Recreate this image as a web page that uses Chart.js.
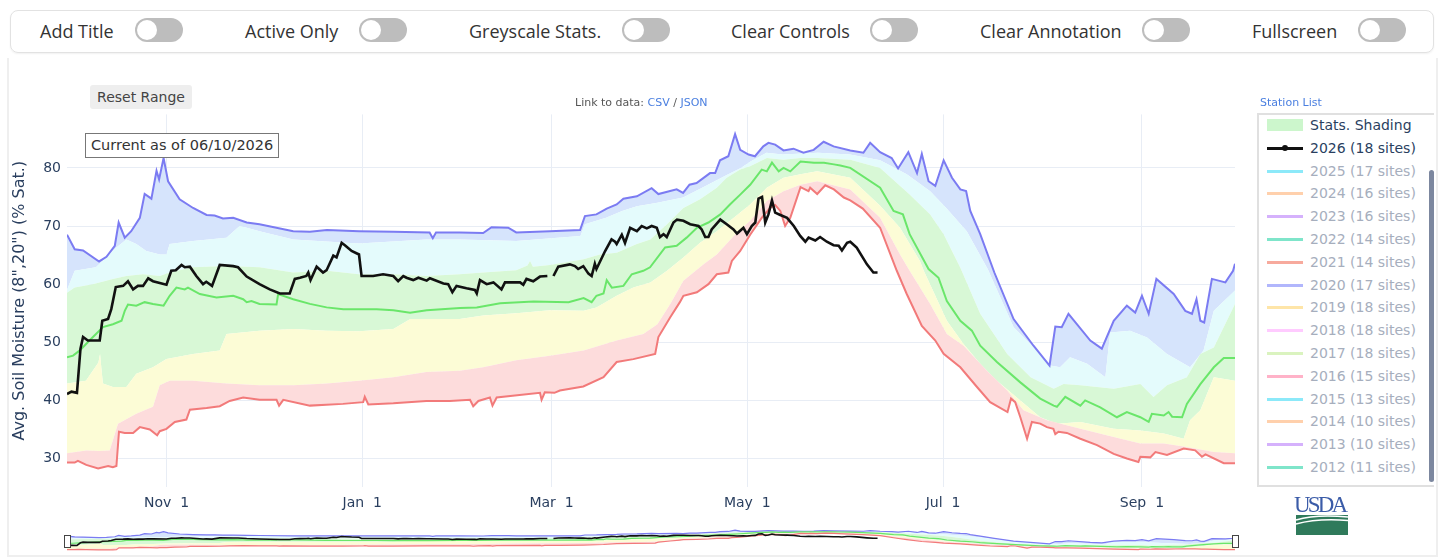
<!DOCTYPE html>
<html>
<head>
<meta charset="utf-8">
<title>Avg. Soil Moisture</title>
<script src="https://cdn.jsdelivr.net/npm/chart.js@4.4.1/dist/chart.umd.min.js"></script>
<style>
  body { margin:0; width:1440px; height:560px; overflow:hidden; position:relative; background:#fff; font-family:"DejaVu Sans", sans-serif; }
  .bar { position:absolute; left:10px; top:10px; width:1422px; height:41px; border:1px solid #e2e2e2; border-radius:8px; box-shadow:0 1px 2px rgba(0,0,0,0.06); }
  .ctl { position:absolute; top:19px; font:18px "Open Sans", sans-serif; line-height:24px; color:#333; }
  .tg { position:absolute; top:18px; width:48px; height:24px; border-radius:12px; background:#bdbdbd; }
  .tg::after { content:""; position:absolute; left:2px; top:2px; width:20px; height:20px; border-radius:50%; background:#fff; }
  .panel { position:absolute; left:7px; top:58px; width:1427px; height:497px; border-left:2px solid #efefef; border-right:2px solid #efefef; border-bottom:2px solid #efefef; }
  canvas { position:absolute; }
  .btn { position:absolute; left:90px; top:85px; width:102px; height:24px; background:#eeeeee; border-radius:3px; font-size:14px; line-height:24px; text-align:center; color:#444; }
  .note { position:absolute; left:85px; top:133px; padding:0 5px; height:23px; border:1px solid #777; background:#fff; font-size:14.5px; line-height:23px; color:#333; }
  .link { position:absolute; top:96px; font-size:11px; color:#555; }
  .link span { color:#4a7fe0; }
  .legend { position:absolute; left:1257px; top:113px; width:175px; height:370px; border:2px solid #e0e0e0; border-right:none; }
  .row { position:absolute; left:8px; height:20px; font-size:14px; line-height:20px; white-space:nowrap; }
  .row .s { position:absolute; left:0; top:9px; width:36px; height:3px; }
  .row .m { position:absolute; left:15px; top:7px; width:6px; height:6px; border-radius:50%; background:#111; }
  .row .t { position:absolute; left:43px; top:0; }
  .scroll { position:absolute; left:1429px; top:170px; width:5px; height:312px; border-radius:3px; background:#7c879f; }
  .handle { position:absolute; top:535px; width:5px; height:11px; border:1px solid #444; background:#fff; }
</style>
</head>
<body>

<div class="bar"></div>
<div class="ctl" style="left:40px">Add Title</div><div class="tg" style="left:135px"></div>
<div class="ctl" style="left:245px">Active Only</div><div class="tg" style="left:359px"></div>
<div class="ctl" style="left:469px">Greyscale Stats.</div><div class="tg" style="left:622px"></div>
<div class="ctl" style="left:731px">Clear Controls</div><div class="tg" style="left:870px"></div>
<div class="ctl" style="left:980px">Clear Annotation</div><div class="tg" style="left:1142px"></div>
<div class="ctl" style="left:1252px">Fullscreen</div><div class="tg" style="left:1358px"></div>

<div class="panel"></div>

<canvas id="mainChart" width="1240" height="420" style="left:0;top:100px"></canvas>
<canvas id="rangeChart" width="1168" height="22" style="left:67px;top:529px"></canvas>
<div class="handle" style="left:64px"></div>
<div class="handle" style="left:1232px"></div>

<div class="btn">Reset Range</div>
<div class="note">Current as of 06/10/2026</div>
<div class="link" style="left:575px">Link to data: <span>CSV</span> / <span>JSON</span></div>
<div class="link" style="left:1260px"><span>Station List</span></div>

<div class="legend" id="legend"></div>
<div class="scroll"></div>

<svg style="position:absolute;left:1292px;top:493px" width="60" height="44" viewBox="0 0 60 44">
  <text x="29" y="19" text-anchor="middle" font-family="Liberation Serif" font-size="23" fill="#3b5ca8" textLength="54">USDA</text>
  <path d="M4 22 H56 V42 H4 Z" fill="#2f7a5b"/>
  <path d="M4 27 Q24 21 56 24" stroke="#fff" stroke-width="1.6" fill="none"/>
  <path d="M4 31 Q26 25 56 27.5" stroke="#fff" stroke-width="1.4" fill="none"/>
</svg>

<script>
// ---- axis ticks (day of water year, Oct 1 = 0) ----
const monthTickDays   = [31, 92, 151, 212, 273, 335];
const monthTickLabels = ['Nov  1', 'Jan  1', 'Mar  1', 'May  1', 'Jul  1', 'Sep  1'];
const yTicks          = [30, 40, 50, 60, 70, 80];

// ---- 2026 (18 sites) ----
const days2026 = [0,1.4,3.1,4.2,5,6.5,10.2,11,12.8,13.8,15.2,17.5,19,20.6,22.1,23.7,25.3,26.8,31,32.5,33.9,35.7,36.7,38.3,40.3,42.4,43.4,45.2,47.6,51.8,53.3,56,60,63.2,66.3,69.4,71,72.6,74.6,75.2,75.9,77.8,79.8,80.9,83,84,85.6,86.6,88.7,91,91.8,95.4,98.5,101.7,103.2,104.8,105.8,107.9,109.5,112.1,113.1,117.3,118.8,120.1,121.4,124.5,127.1,127.7,128.7,130.8,132.9,135.4,136.5,141.2,142.2,143.2,145.3,147.4,149.7,150.6,151.6,153.1,156.7,158.3,159.3,160.9,162.5,163.5,164.5,165,167.7,169.7,170.8,171.3,172.9,173.9,175.5,177.6,179.1,180.7,182.2,183.8,184.8,185.9,186.9,189,190.1,192.1,194.2,196.8,197.8,198.9,199.9,200.9,203.6,205.6,207.7,208.8,210.8,211.9,213.4,214.5,215.5,216.6,217.6,218.6,219.7,220.7,222.3,224.4,226.5,228.5,230.1,231.1,233.2,234.7,236.8,238.9,240.5,241.5,243.1,244.1,246.1,249.3,251.3,252.6];
const vals2026 = [41.1,41.5,41.3,48.9,50.9,50.3,50.3,53.7,54,55.7,59.5,59.7,60.5,59.1,59.7,59.7,61,60.5,59.9,62.3,62.4,63.3,62.9,63,61.4,60,60.4,59.7,63.3,63.1,62.9,61.3,60,59.1,58.4,58.4,60.9,61.1,61.4,62,60.7,63,62,62.4,64.9,64.6,67.1,66.7,65.7,65.1,61.4,61.4,61.7,61.4,60.5,61.4,61.1,60.7,61.1,60.6,61,60.1,60,58.6,59.7,59.3,59,58.4,60.7,60,60.3,59.1,60.3,60.3,59.9,60.9,60.5,61.3,61.4,null,61.4,63,63.4,63.1,62.6,63.1,61.8,61.4,63.5,62.6,65.7,67.7,67.3,66.9,68.5,67.1,69.7,69.1,70,69.6,70,69.7,68.1,68.6,68.1,70.6,71.1,70.9,70.3,70,69.4,68.1,68.1,69.4,71.1,70.3,69.4,68.7,69.7,68.6,70,70.6,74.7,75,70.6,72,74.4,72.3,71.9,71.4,70,68.3,67.3,68,67.5,68.1,67.3,66.7,66.6,65.8,67.1,67.3,66.3,63.4,62,62];

// ---- statistics: max ----
const maxDays = [0,2.4,5,10,12.3,14.9,16.1,18,20,22.7,24.2,26.3,27.9,28.7,30.1,31.5,35.1,39.3,43.5,46,48.6,51.8,56,60,70.5,75.7,81,91,101.7,113,114,115,122.4,129.7,132.3,137.5,140,150.5,159.9,161.4,165,168.2,171.3,173.4,177.6,182.2,184.3,190,192,194,196.2,200.4,202,203.5,206.1,208.2,209.8,212.4,214.4,217,218.6,220.7,223.3,226.4,229.5,232.7,235.8,238.9,244.1,248.2,250.3,253.4,257,259,262.2,264.9,266.4,268.5,270.6,273.2,275.8,278.4,280.2,281.5,284.6,289,295,301.2,306.2,308,310,312.1,318.9,322.5,326.2,330.3,332.9,335,337.1,339.5,344.9,348.5,350.6,352,353.2,354.4,356.8,361,363.4,364];
const maxVals = [68.5,66,65.8,63.9,64.7,66.6,70.6,68,69.1,71.4,75.5,74.7,79.5,78,81.7,77.7,74.6,73.1,71.9,71.8,71.3,71.4,70.6,70.3,69.1,69,69.3,69.1,69,68.9,67.9,68.9,68.9,68.8,69.8,69.7,68.9,69.1,69.3,71.7,72,73,73.7,74.7,75.1,76.5,75.5,76.3,75.7,77.1,77.4,79.1,79.1,81.3,82,85.8,83.1,82.3,82,83.7,84.3,84,83,83.3,82.6,83.1,84.5,83.7,83,82.6,84.3,82.7,81.7,79.9,82.7,79.1,82.4,77.7,76.9,81.3,78.3,76.3,76,72.6,68.6,62,54,49.4,46,52.7,52.6,54.9,50.3,48.9,53.7,56.3,55.1,58,54.9,60.9,58.3,55.4,54.9,57.4,53.7,53.4,60.9,60.3,62.3,63.5];

// ---- statistics: 90th percentile ----
const p90Days = [0,2.4,9,15.4,18.5,21.6,24.7,28.9,31,32,39.3,49.7,53.8,56,60,70.5,91,112,122.4,140,160,161.4,168,173,177.6,184,192,199,205,210,213,218,223,234,244,253.4,261.7,269,274,280.4,287,295,302.3,306.4,309.5,312.6,317.9,323.6,325.1,331.3,336.6,342.8,350,354.2,357.4,364];
const p90Vals = [59,62.3,62.9,66.3,67.7,66.9,65.7,65.1,65.1,66.9,67.4,68,70,69.7,69.1,67.7,67,67.7,67.7,67.4,68.3,70.3,71.4,72.6,73.4,74,74.9,76.9,78.6,80,81.1,82.6,82.3,82.6,82.3,81.3,78.9,76,73.1,69.1,62.5,52.6,48.6,46,45.7,47.4,46.3,44,51.7,52,50.8,48,45.7,48.6,55.4,58.9];

// ---- statistics: 70th percentile ----
const p70Days = [0,2.4,8,14.3,18.5,23.7,28.9,32,39.3,49.7,60,70.5,81,91,101.7,112,122.4,129.7,140,143.5,144.3,145.2,150.5,161,166.1,171.3,177.6,181.8,187,192.1,197.3,202.5,205.6,209.8,212.9,218.1,223.3,228.6,233.8,244.1,253.4,262.6,269,273.2,278.4,284.6,293,300.3,307.5,310.6,315.8,326.2,334.5,338.6,342.8,349,353.2,357.4,364];
const p70Vals = [58.5,59.4,60,60.9,61.4,61.7,61.4,62,62.9,63.1,62.9,62,62.3,61.7,61.7,61.4,61.7,62,62.4,63.2,64,63,63.3,64.3,65.1,65.4,66.9,67.7,70.3,73.1,74.6,76.6,78.3,79.7,80.3,81.7,81.4,81.7,81.7,81.4,80,75.4,72,68.6,62.8,54.9,48,44,42,42.8,42.6,42,42.8,40.6,42.6,44,48,49.1,56.6];

// ---- statistics: median ----
const medDays = [0,1.9,4,7,11.2,14.3,17,18,19,21.6,24.2,26.8,30.1,32,34.1,36.7,37.7,41.4,46.6,51.8,54.9,56,57.5,60,65.3,65.8,70.5,75.7,80.9,86.1,96.5,101.7,106.9,112.1,122.5,127.7,135,145.4,156.3,161,163.5,165,167.2,168.2,169.8,173.4,176,179.6,181.7,186.4,190,193.1,196.3,199.9,203.6,206.6,209.8,212.9,216.5,218.1,219.7,221.8,223.3,225.4,228.6,232.8,235.9,239,241,244.1,253.4,257.6,260.5,262.6,268.5,271.6,274.2,278.4,282,284.6,289.8,297.1,303.3,307.5,308.5,311.1,315.8,317.3,322,327.2,330.3,334.5,337.1,338.1,341.8,343.3,344.4,347.5,349,353.2,357.4,360.5,364];
const medVals = [47.4,47.7,48.6,50.3,52.6,53.1,53.7,55.4,56.5,56.3,56.9,56.6,56.3,58,59.4,59.1,59.4,58.3,57.7,58,57.4,56.9,57.1,56.6,56.5,58.3,57.4,56.6,56,55.7,55.7,55.5,55.1,55.5,55.9,56,56.7,57,56.9,57.6,56.9,58,58.4,60.7,59.4,59.7,61.7,62.3,62.9,66.3,66.6,68,69.7,70.6,72,73.7,75.4,77.1,79.7,79.4,80.9,79.4,80,79.4,81.1,80.9,80.9,80.6,80.4,80,76.6,72.6,72,68.6,62.6,61.1,57.1,53.7,52,49.4,46.6,43.1,40.3,39.1,38.9,40.6,39.1,40,38.8,37.1,38,37.1,36.3,37.7,37.4,38,37.2,37.1,39.4,42.8,45.7,47.3,47.3];

// ---- statistics: 30th percentile ----
const p30Days = [0,5.9,9.8,10.3,10.8,11.2,14.3,18.5,21.6,26.8,31,39.3,47.6,49.7,60,70.5,80.9,91,101.7,107,122.4,129.7,140,150.5,161,165,171.3,176.5,181.8,187,192.1,197.3,202.5,207.8,212.9,218.1,223.3,228.6,233.8,244.1,253.4,259.6,265.8,267,274.2,279.4,284.6,289.8,297.1,303.3,308.5,315.8,326.2,334.5,341.8,348,350,353.2,357.4,364];
const p30Vals = [42.9,43.4,46.5,48,45,42.9,42.3,42.3,44.6,45.7,47.1,48,48.6,51.4,52,52.3,52,51.9,52.3,54,54,54.6,55,55.5,55.4,56,58,59.4,60.3,62.3,64.6,67.1,69.1,71.4,73.7,76.6,78.3,78.9,79.4,78.3,73.5,69.7,64,62.3,53.7,49.7,46.3,43.4,40,37.1,36,36.3,35.1,34.8,34.3,33.4,36.6,38.3,44,43.4];

// ---- statistics: 10th percentile ----
const p10Days = [0,6,10,13.3,15.9,21.6,26.8,28.9,32,39.3,49.7,60,70.5,81,91,101.7,112,122.4,129.7,140,150.5,161,171.3,179.6,184,188,192.1,198.4,202.5,207.8,212.9,218.1,223.3,228.6,233.8,244.1,253.4,259.6,262.6,269,274.2,279.4,286.7,293,298.1,305.4,315.8,326.2,334.5,341.8,349,357.4,364];
const p10Vals = [30.9,31.4,31.3,31.4,36,37.7,38.9,42.6,43.4,43.4,42.9,42.6,42.6,42.9,43.4,44,44.9,45.1,45.7,46.9,47.7,48.6,50.3,51.4,53.1,56.6,60.6,63.4,65.1,68.3,70.9,74.3,76,77.1,77.7,76.3,71.4,65.1,62.3,56.6,51.4,49.4,45.1,41.7,38.3,36.6,35.1,33.7,32.6,32.6,32,31.1,30.9];

// ---- statistics: min ----
const minDays = [0,2.4,3.4,6,9.7,12.8,14.3,15.4,16.2,18,20.6,22.7,25.8,28.1,28.9,31,33.6,37.2,38.3,43.5,47.6,50.7,54.9,60,65.3,66.1,67.4,75.7,86,92.3,92.8,93.9,101.7,112,119.3,125.6,126.6,128.2,131.8,132.6,133.9,147.4,147.9,148.9,151.9,153.6,160.9,167.2,171.3,176.5,183.3,184.3,188,191,192.1,196.3,199.9,202.5,206.1,207.2,209.8,212.9,216.5,219.1,220.7,222.3,223.8,225.4,228.6,231.1,231.6,233.8,236.3,239,242.1,244.1,248,253.4,258.6,261.7,266.4,270.6,273.2,278.4,283.6,287.7,293.1,294.2,295.5,297.1,299.2,300.7,303.3,305.4,307.4,308,309,311.6,315.8,321,326.2,330.3,333.9,334.5,337.6,339.2,342.8,348,351.6,353.7,354.8,360.5,364];
const minVals = [29.3,29.3,29.6,28.9,28.3,28.7,28.5,28.7,34.6,34.4,34.4,35.4,35,34,34.7,35.1,36.3,36.7,38.4,38.7,39,39.9,40.5,40.1,40.1,39.1,40.1,39.1,39.4,39.7,40.6,39.3,39.5,39.9,39.9,40.1,39,39.9,40.5,39.1,40.5,41.3,40.1,41.4,41.3,41.7,42.4,44,46.6,47.1,48,50.9,54.3,56.9,58,58.6,60,61.7,62,64,65.7,68.5,71.4,73.1,73.6,72.6,70,71.4,76.7,76,76.6,75.5,77,76.3,74.9,74.4,73,69.7,62.3,58.3,52.8,50.3,48,45.7,42.3,39.7,38,40.3,39.7,37.1,33.4,36.3,36,35.4,35.1,34.2,34.6,34.4,33.4,32.3,30.8,30,29.4,30.3,30.2,31.1,30.6,31.7,31.4,30.3,30.7,29.2,29.2];

// ---- legend ----
const legendLabels = ['Stats. Shading','2026 (18 sites)','2025 (17 sites)','2024 (16 sites)','2023 (16 sites)','2022 (14 sites)','2021 (14 sites)','2020 (17 sites)','2019 (18 sites)','2018 (18 sites)','2017 (18 sites)','2016 (15 sites)','2015 (13 sites)','2014 (10 sites)','2013 (10 sites)','2012 (11 sites)'];
const legendColors = ['#ccf6cc','#111111','#19d3f3','#ffa15a','#ab63fa','#00cc96','#ef553b','#636efa','#fecb52','#ff97ff','#b6e880','#ff6692','#19d3f3','#ffa15a','#ab63fa','#00cc96'];

const AXIS_COLOR = '#2a3f5f';
const GRID_COLOR = '#e8edf5';
Chart.defaults.font.family = '"DejaVu Sans", sans-serif';

function pts(d, v) {
  return d.map((x, i) => ({ x: x, y: v[i] }));
}

// dataset index matters for the fill targets below
function buildSets(lw) {
  const band = (data, target, color, order) => ({
    data: data, borderWidth: 0, borderColor: 'transparent', backgroundColor: color, fill: target, order: order
  });
  return [
    { data: pts(days2026, vals2026), borderColor: '#111', borderWidth: lw * 1.3, fill: false, order: 0 },
    { data: pts(minDays, minVals), borderColor: '#f27a7a', borderWidth: lw, fill: false, order: 1 },
    band(pts(p10Days, p10Vals), 1, '#fddcdc', 2),
    band(pts(p30Days, p30Vals), 2, '#fcfcd6', 3),
    { data: pts(medDays, medVals), borderColor: '#6ae66a', borderWidth: lw, backgroundColor: '#d8f8d6', fill: 3, order: 4 },
    band(pts(p70Days, p70Vals), 4, '#d8f8d6', 5),
    band(pts(p90Days, p90Vals), 5, '#e4fbfc', 6),
    { data: pts(maxDays, maxVals), borderColor: '#7b7bf2', borderWidth: lw, backgroundColor: '#d6e4fc', fill: 6, order: 7 },
  ];
}

const commonOpts = {
  responsive: false,
  animation: false,
  devicePixelRatio: 1,
  elements: { point: { radius: 0, hoverRadius: 0 }, line: { tension: 0 } },
  plugins: {
    legend: { display: false },
    tooltip: { enabled: false },
    filler: { drawTime: 'beforeDatasetsDraw' }
  },
  events: []
};

new Chart(document.getElementById('mainChart'), {
  type: 'line',
  data: { datasets: buildSets(2) },
  options: {
    ...commonOpts,
    layout: { padding: { top: 13, right: 5, left: 0, bottom: 0 } },
    scales: {
      x: {
        type: 'linear', min: 0, max: 364,
        afterBuildTicks: s => { s.ticks = monthTickDays.map(v => ({ value: v })); },
        afterFit: s => { s.height = 33; },
        ticks: {
          callback: (v, i) => monthTickLabels[i],
          color: AXIS_COLOR, font: { size: 14 }, padding: 8, maxRotation: 0, autoSkip: false
        },
        grid: { color: GRID_COLOR, drawTicks: false },
        border: { display: false }
      },
      y: {
        type: 'linear', min: 25.1, max: 89.2,
        afterBuildTicks: s => { s.ticks = yTicks.map(v => ({ value: v })); },
        afterFit: s => { s.width = 67; },
        ticks: { color: AXIS_COLOR, font: { size: 14 }, padding: 6 },
        grid: { color: GRID_COLOR, drawTicks: false },
        border: { display: false },
        title: {
          display: true, text: 'Avg. Soil Moisture (8",20") (% Sat.)',
          color: AXIS_COLOR, font: { size: 16 }, padding: { top: 10, bottom: 0 }
        }
      }
    }
  }
});

// range slider preview
new Chart(document.getElementById('rangeChart'), {
  type: 'line',
  data: { datasets: buildSets(1.2) },
  options: {
    ...commonOpts,
    layout: { padding: 0 },
    scales: {
      x: { type: 'linear', min: 0, max: 364, display: false },
      y: { type: 'linear', min: 25.1, max: 89.2, display: false }
    }
  }
});

// html legend
const legendEl = document.getElementById('legend');
legendLabels.forEach((label, i) => {
  const row = document.createElement('div');
  row.className = 'row';
  row.style.top = (i * 22.8) + 'px';
  const hidden = i > 1;
  const sw = document.createElement('div');
  sw.className = 's';
  sw.style.background = legendColors[i];
  if (i === 0) { sw.style.top = '4px'; sw.style.height = '12px'; }
  if (hidden) sw.style.opacity = 0.5;
  row.appendChild(sw);
  if (i === 1) {
    const mk = document.createElement('div');
    mk.className = 'm';
    row.appendChild(mk);
  }
  const tx = document.createElement('div');
  tx.className = 't';
  tx.textContent = label;
  tx.style.color = hidden ? '#a6aebd' : AXIS_COLOR;
  row.appendChild(tx);
  legendEl.appendChild(row);
});
</script>
</body>
</html>
